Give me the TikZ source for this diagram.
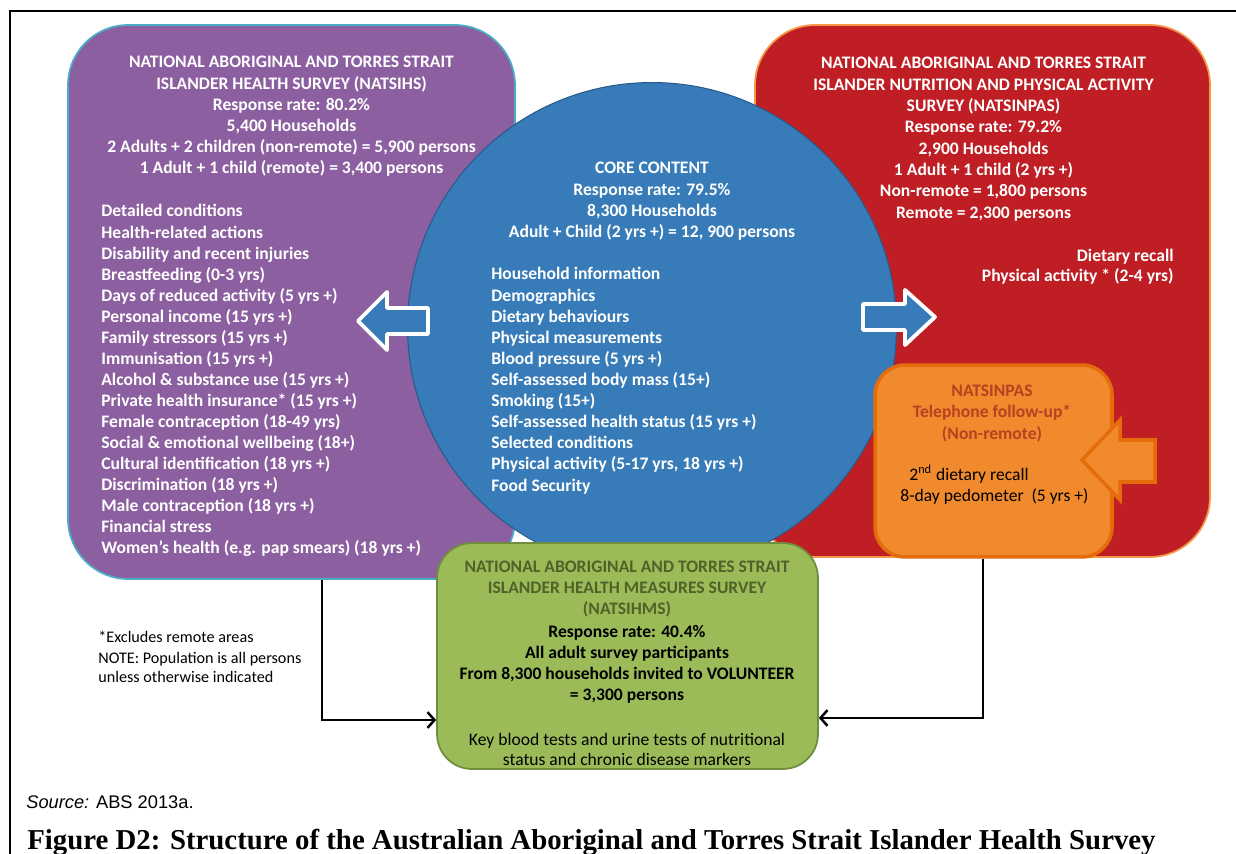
\documentclass[tikz,border=0pt]{standalone}
\usepackage{fontspec}
\setmainfont{Carlito}
\newfontfamily\captionfont{Liberation Serif}
\newfontfamily\sourcefont{Liberation Sans}
\usetikzlibrary{arrows.meta}

\definecolor{hspurple}{RGB}{140,96,160}
\definecolor{hsteal}{RGB}{75,172,198}
\definecolor{npared}{RGB}{190,30,36}
\definecolor{npaedge}{RGB}{247,150,70}
\definecolor{coreblue}{RGB}{55,124,185}
\definecolor{coreedge}{RGB}{40,90,140}
\definecolor{hmgreen}{RGB}{155,187,89}
\definecolor{hmedge}{RGB}{113,140,60}
\definecolor{hmtitle}{RGB}{79,98,40}
\definecolor{phoneorange}{RGB}{240,138,45}
\definecolor{phoneedge}{RGB}{228,108,10}
\definecolor{phonetext}{RGB}{185,65,35}

\begin{document}
\begin{tikzpicture}[x=0.02cm,y=-0.02cm,
    panel/.style={draw, rounded corners=1.2cm, line width=1pt, inner sep=0pt},
    bodytext/.style={font=\fontsize{10}{12}\selectfont\bfseries, text=white, inner sep=0pt},
    plaintext/.style={font=\fontsize{10}{12}\selectfont, text=black, inner sep=0pt},
    notetext/.style={font=\fontsize{9.2}{11}\selectfont, inner sep=0pt},
    blockarrow/.style={line width=2.2pt, line join=round},
    link/.style={line width=1.4pt, -{Straight Barb[length=4pt,width=9pt,line width=1.4pt]}}]
    \useasboundingbox (0,0) rectangle (1236,854);

    % frame
    \draw[line width=1.1pt] (10,854) -- (10,11) -- (1236,11);

    % survey panels
    \node[panel, fill=hspurple, draw=hsteal, minimum width=8.94cm, minimum height=11.08cm] (natsihs) at (291.5,302) {};
    \node[panel, fill=npared, draw=npaedge, minimum width=9.1cm, minimum height=10.64cm] (natsinpas) at (982.5,291) {};
    \node[draw=coreedge, fill=coreblue, circle, line width=0.6pt, minimum size=9.78cm, inner sep=0pt] (core) at (652,327) {};

    % block arrows
    \draw[blockarrow, draw=white, fill=coreblue] (358,321) -- (387,292) -- (387,308) -- (428,308)
        -- (428,334) -- (387,334) -- (387,350) -- cycle;
    \draw[blockarrow, draw=white, fill=coreblue] (863,304) -- (905,304) -- (905,290) -- (935,317)
        -- (905,345) -- (905,330) -- (863,330) -- cycle;

    \node[panel, fill=hmgreen, draw=hmedge, rounded corners=0.7cm, minimum width=7.62cm, minimum height=4.52cm] (natsihms) at (627.5,656) {};
    \node[panel, fill=phoneorange, draw=phoneedge, line width=2pt, rounded corners=0.6cm, minimum width=4.74cm, minimum height=3.84cm] (phone) at (993.5,461) {};
    \draw[line width=2pt, line join=miter, draw=phoneedge, fill=phoneorange] (1082,460) -- (1120,420) -- (1120,440)
        -- (1155,440) -- (1155,482) -- (1120,482) -- (1120,500) -- cycle;

    % NATSIHS text
    \foreach \line [count=\i] in {NATIONAL ABORIGINAL AND TORRES STRAIT, ISLANDER HEALTH SURVEY (NATSIHS),
        Response rate: 80.2\%, {5,400 Households}, {2 Adults + 2 children (non-remote) = 5,900 persons},
        {1 Adult + 1 child (remote) = 3,400 persons}}
        \node[bodytext, anchor=base] (hshead\i) at (291.5,{68+21.2*(\i-1)}) {\line};
    \foreach \line [count=\i] in {Detailed conditions, Health-related actions, Disability and recent injuries,
        Breastfeeding (0-3 yrs), Days of reduced activity (5 yrs +), Personal income (15 yrs +),
        Family stressors (15 yrs +), Immunisation (15 yrs +), Alcohol \& substance use (15 yrs +),
        Private health insurance* (15 yrs +), Female contraception (18-49 yrs),
        Social \& emotional wellbeing (18+), Cultural identification (18 yrs +),
        Discrimination (18 yrs +), Male contraception (18 yrs +), Financial stress,
        Women’s health (e.g. pap smears) (18 yrs +)}
        \node[bodytext, anchor=base west] (hsitem\i) at (101,{217+21.06*(\i-1)}) {\line};

    % core content text
    \foreach \line [count=\i] in {CORE CONTENT, Response rate: 79.5\%, {8,300 Households},
        {Adult + Child (2 yrs +) = 12, 900 persons}}
        \node[bodytext, anchor=base] (corehead\i) at (652,{174+21.3*(\i-1)}) {\line};
    \foreach \line [count=\i] in {Household information, Demographics, Dietary behaviours,
        Physical measurements, Blood pressure (5 yrs +), Self-assessed body mass (15+), Smoking (15+),
        Self-assessed health status (15 yrs +), Selected conditions,
        {Physical activity (5-17 yrs, 18 yrs +)}, Food Security}
        \node[bodytext, anchor=base west] (coreitem\i) at (491,{280+21.1*(\i-1)}) {\line};

    % NATSINPAS text
    \foreach \line [count=\i] in {NATIONAL ABORIGINAL AND TORRES STRAIT,
        ISLANDER NUTRITION AND PHYSICAL ACTIVITY, SURVEY (NATSINPAS), Response rate: 79.2\%,
        {2,900 Households}, 1 Adult + 1 child (2 yrs +), {Non-remote = 1,800 persons},
        {Remote = 2,300 persons}}
        \node[bodytext, anchor=base] (npahead\i) at (983.5,{69+21.3*(\i-1)}) {\line};
    \node[bodytext, anchor=base east] (npaitem1) at (1174,262) {Dietary recall};
    \node[bodytext, anchor=base east] (npaitem2) at (1174,282) {Physical activity * (2-4 yrs)};

    % telephone follow-up text
    \foreach \line [count=\i] in {NATSINPAS, Telephone follow-up*, (Non-remote)}
        \node[bodytext, text=phonetext, anchor=base] (phonehead\i) at (992,{397+21*(\i-1)}) {\line};
    \node[plaintext, anchor=base west] (phoneitem1) at (909,480) {2\textsuperscript{nd} dietary recall};
    \node[plaintext, anchor=base west] (phoneitem2) at (900,501) {8-day pedometer~ (5 yrs +)};

    % NATSIHMS text
    \foreach \line [count=\i] in {NATIONAL ABORIGINAL AND TORRES STRAIT, ISLANDER HEALTH MEASURES SURVEY,
        (NATSIHMS)}
        \node[bodytext, text=hmtitle, anchor=base] (hmhead\i) at (627,{572+21*(\i-1)}) {\line};
    \foreach \line [count=\i] in {Response rate: 40.4\%, All adult survey participants,
        {From 8,300 households invited to VOLUNTEER}, {= 3,300 persons}}
        \node[bodytext, text=black, anchor=base] (hmitem\i) at (627,{637+21*(\i-1)}) {\line};
    \node[plaintext, anchor=base] (hmtest1) at (627,745) {Key blood tests and urine tests of nutritional};
    \node[plaintext, anchor=base] (hmtest2) at (627,765) {status and chronic disease markers};

    % connectors to the health measures survey
    \coordinate (leftdrop) at (322,720);
    \coordinate (rightdrop) at (983,718);
    \draw[link] (natsihs.south -| leftdrop) -- (leftdrop) -- (natsihms.west |- leftdrop);
    \draw[link] (phone.south -| rightdrop) -- (rightdrop) -- (natsihms.east |- rightdrop);

    % notes and caption
    \node[notetext, anchor=base west] (note1) at (98,642) {*Excludes remote areas};
    \node[notetext, anchor=base west] (note2) at (98,663) {NOTE: Population is all persons};
    \node[notetext, anchor=base west] (note3) at (98,682) {unless otherwise indicated};
    \node[inner sep=0pt, anchor=base west, font=\sourcefont\fontsize{10.4}{12}\selectfont] (source) at (26,808) {\textit{Source:} ABS 2013a.};
    \node[inner sep=0pt, anchor=base west, font=\captionfont\bfseries\fontsize{16.4}{19}\selectfont] (caption) at (27,849)
        {Figure D2: Structure of the Australian Aboriginal and Torres Strait Islander Health Survey};
\end{tikzpicture}
\end{document}
